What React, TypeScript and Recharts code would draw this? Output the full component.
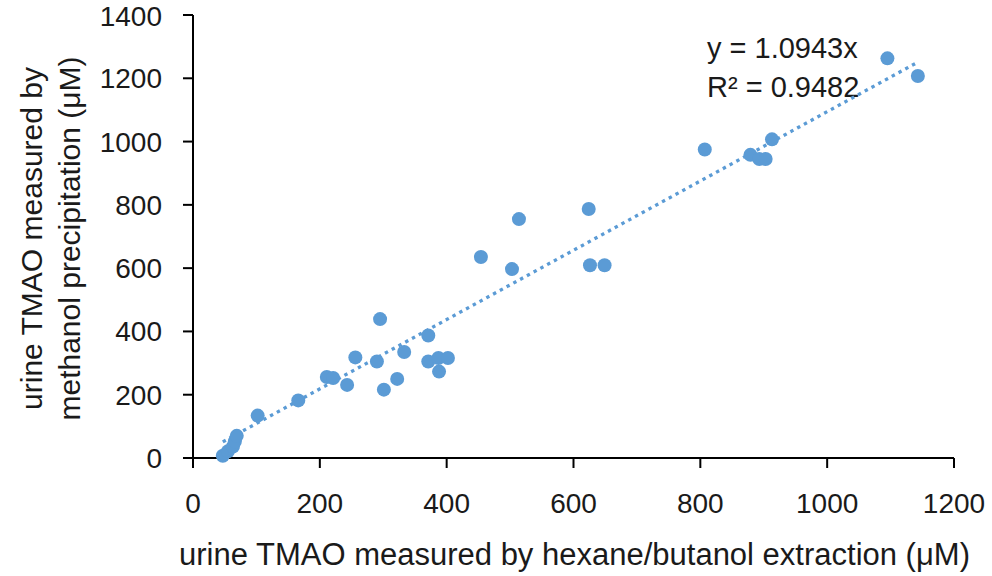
import React from 'react';
import { ScatterChart, Scatter, XAxis, YAxis } from 'recharts';

// hexane/butanol extraction (x) vs methanol precipitation (y), µM
const hexaneValues = [
  47, 55, 63, 66, 69, 102, 166, 211, 221, 243, 256, 290, 295, 301, 322, 333, 371,
  371, 387, 388, 402, 454, 503, 514, 624, 626, 649, 807, 879, 893, 903, 913, 1095, 1143,
];
const methanolValues = [
  7, 21, 36, 52, 70, 134, 182, 256, 253, 231, 318, 305, 439, 216, 250, 335, 305,
  387, 316, 273, 316, 635, 597, 755, 787, 609, 609, 975, 958, 945, 945, 1007, 1263, 1207,
];

// linear fit through origin, end points as drawn
const trendX = [47, 1143];
const trendY = [51, 1251];

const xTicks = [0, 200, 400, 600, 800, 1000, 1200];
const yTicks = [0, 200, 400, 600, 800, 1000, 1200, 1400];

const fitEquation = 'y = 1.0943x';
const fitR2 = 'R² = 0.9482';

const points = hexaneValues.map((x, i) => ({ x, y: methanolValues[i] }));
const trend = trendX.map((x, i) => ({ x, y: trendY[i] }));

const BLUE = '#5B9BD5';
const FONT = "'Liberation Sans', Arial, sans-serif";

const YLabel = (props: any) => {
  const { viewBox } = props;
  const cy = viewBox.y + viewBox.height / 2 + 2;
  return (
    <g transform={`translate(42, ${cy}) rotate(-90)`}>
      <text x={0} y={0} textAnchor="middle" fontSize={30} fontFamily={FONT} fill="#1a1a1a">
        urine TMAO measured by
      </text>
      <text x={0} y={38} textAnchor="middle" fontSize={30} fontFamily={FONT} fill="#1a1a1a">
        methanol precipitation (μM)
      </text>
    </g>
  );
};

const XLabel = (props: any) => {
  const { viewBox } = props;
  const cx = viewBox.x + viewBox.width / 2 + 1;
  return (
    <text x={cx} y={565} textAnchor="middle" fontSize={31} fontFamily={FONT} fill="#1a1a1a">
      urine TMAO measured by hexane/butanol extraction (μM)
    </text>
  );
};

export default function App() {
  return (
    <div style={{ position: 'absolute', left: 0, top: 0, background: '#fff' }}>
      <ScatterChart width={992} height={576} margin={{ top: 15, right: 38, bottom: 0, left: 0 }}>
        <XAxis
          type="number"
          dataKey="x"
          domain={[0, 1200]}
          ticks={xTicks}
          height={118}
          tickSize={10}
          tickMargin={25}
          axisLine={{ stroke: '#000', strokeWidth: 2 }}
          tickLine={{ stroke: '#000', strokeWidth: 2 }}
          tick={{ fontSize: 28, fill: '#1a1a1a', fontFamily: FONT }}
          label={<XLabel />}
        />
        <YAxis
          type="number"
          dataKey="y"
          domain={[0, 1400]}
          ticks={yTicks}
          width={193}
          tickSize={10}
          tickMargin={21}
          axisLine={{ stroke: '#000', strokeWidth: 2 }}
          tickLine={{ stroke: '#000', strokeWidth: 2 }}
          tick={{ fontSize: 28, fill: '#1a1a1a', fontFamily: FONT }}
          label={<YLabel />}
        />
        <Scatter
          data={trend}
          isAnimationActive={false}
          line={{ stroke: BLUE, strokeWidth: 3.3, strokeDasharray: '3.4 4.3' }}
          shape={() => null}
        />
        <Scatter
          data={points}
          isAnimationActive={false}
          fill={BLUE}
          shape={(p: any) => <circle cx={p.cx} cy={p.cy} r={7} fill={BLUE} />}
        />
        <text x={707} y={58} fontSize={29} fontFamily={FONT} fill="#1a1a1a">
          {fitEquation}
        </text>
        <text x={707} y={97} fontSize={29} fontFamily={FONT} fill="#1a1a1a">
          {fitR2}
        </text>
      </ScatterChart>
    </div>
  );
}
